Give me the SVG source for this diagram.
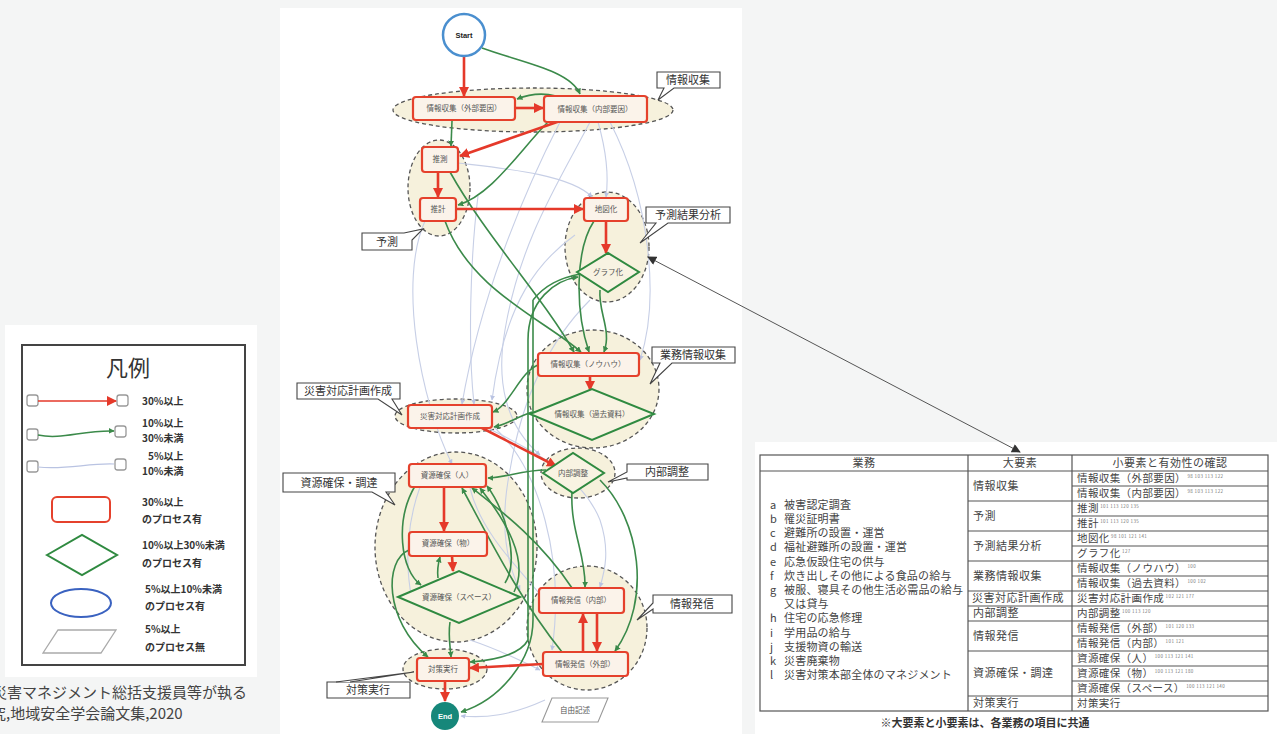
<svg xmlns="http://www.w3.org/2000/svg" width="1277" height="734" viewBox="0 0 1277 734">
  <defs>
    <style>
      .jp { font-family: "Noto Sans CJK JP", "Noto Sans", sans-serif; }
      .grp { fill: #f6f1dc; stroke: #555; stroke-width: 1.3; stroke-dasharray: 4 3; }
      .box { fill: #fbf3ea; stroke: #e5412c; stroke-width: 2.2; }
      .dia { fill: #f8f3e2; stroke: #2f8a40; stroke-width: 2; }
      .lbl { font-size: 7.5px; fill: #555; text-anchor: middle; }
      .red { fill: none; stroke: #e5392a; stroke-width: 2.6; marker-end: url(#mRed); }
      .grn { fill: none; stroke: #3b8a4a; stroke-width: 1.6; marker-end: url(#mGrn); }
      .lt { fill: none; stroke: #c7cfe6; stroke-width: 1.1; marker-end: url(#mLt); }
      .call { fill: #fff; stroke: #444; stroke-width: 1.1; }
      .ctx { font-size: 11px; fill: #333; text-anchor: middle; }
      .leg { font-size: 10px; fill: #333; font-weight: bold; }
      .tb { fill: none; stroke: #555; stroke-width: 1.2; }
      .t1 { font-size: 11px; fill: #444; letter-spacing: 0.2px; }
      .t2 { font-size: 11px; fill: #444; letter-spacing: 0.5px; }
      .t3 { font-size: 10.5px; fill: #444; letter-spacing: 0.4px; }
      .sup { font-size: 4.5px; fill: #777; }
    </style>
    <marker id="mRed" viewBox="0 0 10 10" refX="9" refY="5" markerWidth="10" markerHeight="10" markerUnits="userSpaceOnUse" orient="auto">
      <path d="M0,0 L10,5 L0,10 z" fill="#e5392a"/>
    </marker>
    <marker id="mGrn" viewBox="0 0 10 10" refX="9" refY="5" markerWidth="6" markerHeight="6" markerUnits="userSpaceOnUse" orient="auto">
      <path d="M0,0 L10,5 L0,10 z" fill="#3b8a4a"/>
    </marker>
    <marker id="mLt" viewBox="0 0 10 10" refX="9" refY="5" markerWidth="5" markerHeight="5" markerUnits="userSpaceOnUse" orient="auto">
      <path d="M0,0 L10,5 L0,10 z" fill="#b9c3e2"/>
    </marker>
    <marker id="mBlk" viewBox="0 0 10 10" refX="9" refY="5" markerWidth="10" markerHeight="9" markerUnits="userSpaceOnUse" orient="auto-start-reverse">
      <path d="M0,0 L10,5 L0,10 z" fill="#333"/>
    </marker>
  </defs>

  <!-- page -->
  <rect x="0" y="0" width="1277" height="734" fill="#f4f5f5"/>
  <rect x="5" y="325" width="252" height="352" fill="#fff"/>
  <rect x="280" y="8" width="462" height="726" fill="#fff"/>
  <rect x="755" y="442" width="522" height="292" fill="#fff"/>

  <!-- legend -->
  <g id="legend" class="jp">
    <rect x="22" y="345" width="223" height="320" fill="none" stroke="#444" stroke-width="2"/>
    <text x="128" y="376" font-size="22" fill="#333" text-anchor="middle">凡例</text>
    <rect x="27" y="395" width="11" height="11" rx="2.5" fill="#fff" stroke="#999" stroke-width="1.3"/>
    <rect x="117" y="395" width="11" height="11" rx="2.5" fill="#fff" stroke="#999" stroke-width="1.3"/>
    <path d="M38,401 H116" fill="none" stroke="#e5392a" stroke-width="1.6" marker-end="url(#mRed)"/>
    <text class="leg" x="142" y="405">30%以上</text>
    <rect x="27" y="429" width="11" height="11" rx="2.5" fill="#fff" stroke="#999" stroke-width="1.3"/>
    <rect x="115" y="426" width="11" height="11" rx="2.5" fill="#fff" stroke="#999" stroke-width="1.3"/>
    <path d="M38,435 C62,440 82,430 114,431" fill="none" stroke="#3b8a4a" stroke-width="1.5" marker-end="url(#mGrn)"/>
    <text class="leg" x="142" y="427">10%以上</text>
    <text class="leg" x="142" y="442">30%未満</text>
    <rect x="27" y="461" width="11" height="11" rx="2.5" fill="#fff" stroke="#999" stroke-width="1.3"/>
    <rect x="115" y="459" width="11" height="11" rx="2.5" fill="#fff" stroke="#999" stroke-width="1.3"/>
    <path d="M38,467 C66,470 88,463 114,464" fill="none" stroke="#b9c3e2" stroke-width="1.2"/>
    <text class="leg" x="148" y="460">5%以上</text>
    <text class="leg" x="142" y="475">10%未満</text>
    <rect x="52" y="497" width="58" height="25" rx="5" fill="#fff" stroke="#e5412c" stroke-width="2"/>
    <text class="leg" x="142" y="506">30%以上</text>
    <text class="leg" x="142" y="523">のプロセス有</text>
    <polygon points="47,555 82,535 117,555 82,575" fill="#fff" stroke="#2f8a40" stroke-width="2"/>
    <text class="leg" x="142" y="549">10%以上30%未満</text>
    <text class="leg" x="142" y="567">のプロセス有</text>
    <ellipse cx="81" cy="603" rx="30" ry="14" fill="#fff" stroke="#3a62c0" stroke-width="2"/>
    <text class="leg" x="145" y="593">5%以上10%未満</text>
    <text class="leg" x="145" y="610">のプロセス有</text>
    <polygon points="58,630 116,630 101,653 43,653" fill="#fff" stroke="#aaa" stroke-width="1.3"/>
    <text class="leg" x="145" y="633">5%以上</text>
    <text class="leg" x="145" y="651">のプロセス無</text>
  </g>

  <!-- source caption (runs off the left edge) -->
  <g id="caption" class="jp" font-size="15" fill="#444">
    <text x="-8" y="698">災害マネジメント総括支援員等が執る</text>
    <text x="-9" y="719">究,地域安全学会論文集,2020</text>
  </g>

  <!-- clusters -->
  <g id="clusters">
    <ellipse class="grp" cx="533" cy="110" rx="140" ry="22"/>
    <ellipse class="grp" cx="439" cy="188" rx="31" ry="48"/>
    <ellipse class="grp" cx="607" cy="247" rx="42" ry="55"/>
    <ellipse class="grp" cx="593" cy="389" rx="66" ry="59"/>
    <ellipse class="grp" cx="456" cy="416" rx="61" ry="17"/>
    <ellipse class="grp" cx="578" cy="473" rx="37" ry="25"/>
    <ellipse class="grp" cx="456" cy="547" rx="81" ry="95"/>
    <ellipse class="grp" cx="587" cy="628" rx="60" ry="62"/>
    <ellipse class="grp" cx="445" cy="669" rx="42" ry="20"/>
  </g>

  <!-- connectors -->
  <g id="connectors">
    <!-- 5%-10% -->
    <path class="lt" d="M598,122 C606,150 609,175 606,197"/>
    <path class="lt" d="M590,122 C560,180 520,240 505,330 C496,380 505,425 540,455"/>
    <path class="lt" d="M458,163 C500,168 570,174 592,197"/>
    <path class="lt" d="M425,221 C398,280 420,400 452,464"/>
    <path class="lt" d="M560,122 C520,200 480,300 462,404"/>
    <path class="lt" d="M610,122 C650,200 660,300 640,360"/>
    <path class="lt" d="M495,428 C540,470 565,560 552,650"/>
    <path class="lt" d="M488,428 C520,445 580,470 600,520 C610,550 605,570 600,587"/>
    <path class="lt" d="M470,488 C480,530 515,565 545,600"/>
    <path class="lt" d="M420,487 C408,520 404,560 412,600"/>
    <path class="lt" d="M575,235 C540,260 505,300 492,400"/>
    <path class="lt" d="M590,300 C560,330 525,380 510,470 C500,520 505,560 520,590"/>
    <path class="lt" d="M470,640 C500,650 520,660 540,670"/>
    <path class="lt" d="M545,700 C510,716 485,718 461,716"/>
    <path class="lt" d="M478,196 C470,260 468,350 474,404"/>
    <!-- 10%-30% -->
    <path class="grn" d="M482,48 C520,62 570,70 580,94"/>
    <path class="grn" d="M556,96 C540,92 527,95 517,99"/>
    <path class="grn" d="M452,121 L451,146"/>
    <path class="grn" d="M548,122 C520,150 492,195 458,205"/>
    <path class="grn" d="M450,172 C485,235 545,300 574,352"/>
    <path class="grn" d="M445,221 C470,290 545,320 581,352"/>
    <path class="grn" d="M594,221 C575,250 575,310 589,352"/>
    <path class="grn" d="M600,290 C598,312 612,330 604,352"/>
    <path class="grn" d="M528,640 L528,340 C528,300 555,280 578,277"/>
    <path class="grn" d="M533,300 C545,285 560,278 580,274 M533,300 L533,620 C533,660 500,700 461,712"/>
    <path class="grn" d="M528,640 C520,655 495,660 470,662"/>
    <path class="grn" d="M538,365 C520,372 510,405 493,412"/>
    <path class="grn" d="M532,412 C515,418 505,425 494,427"/>
    <path class="grn" d="M546,470 C522,470 505,478 488,478"/>
    <path class="grn" d="M572,492 C570,530 586,555 585,587"/>
    <path class="grn" d="M600,480 C640,520 652,600 615,651"/>
    <path class="grn" d="M572,588 C540,540 500,510 472,488"/>
    <path class="grn" d="M562,652 C520,600 490,540 462,488"/>
    <path class="grn" d="M514,592 C530,560 505,520 480,488"/>
    <path class="grn" d="M415,486 C395,520 400,570 421,585"/>
    <path class="grn" d="M409,550 C384,560 384,620 428,657"/>
    <path class="grn" d="M450,622 C448,635 450,645 451,657"/>
    <path class="grn" d="M438,578 C437,570 438,564 440,557"/>
    <path class="grn" d="M505,583 C520,560 505,510 487,486"/>
    <!-- 30%+ -->
    <path class="red" d="M464,57 V96"/>
    <path class="red" d="M515,108 H543"/>
    <path class="red" d="M560,121 L460,156"/>
    <path class="red" d="M438,172 V197"/>
    <path class="red" d="M456,209 H583"/>
    <path class="red" d="M606,221 V253"/>
    <path class="red" d="M590,376 V390"/>
    <path class="red" d="M482,428 L556,466"/>
    <path class="red" d="M444,486 V531"/>
    <path class="red" d="M452,556 L453,571"/>
    <path class="red" d="M583,652 V614"/>
    <path class="red" d="M597,613 V651"/>
    <path class="red" d="M543,664 L470,668"/>
    <path class="red" d="M445,681 V701"/>
    <!-- link to table -->
    <path d="M648,257 L1020,452" fill="none" stroke="#555" stroke-width="1" marker-start="url(#mBlk)" marker-end="url(#mBlk)"/>
  </g>

  <!-- nodes -->
  <g id="n-start">
    <circle cx="464" cy="35" r="21" fill="#fff" stroke="#4a8fcf" stroke-width="2.5"/>
    <text x="464" y="38" font-family="Liberation Sans, sans-serif" font-size="7.5" font-weight="bold" fill="#222" text-anchor="middle">Start</text>
  </g>
  <g id="n-gaibu" class="jp">
    <rect class="box" x="413" y="97" width="102" height="23" rx="3"/>
    <text class="lbl" x="464" y="111">情報収集（外部要因）</text>
  </g>
  <g id="n-naibu" class="jp">
    <rect class="box" x="544" y="96" width="103" height="26" rx="3"/>
    <text class="lbl" x="595" y="112">情報収集（内部要因）</text>
  </g>
  <g id="n-suisoku" class="jp">
    <rect class="box" x="422" y="147" width="36" height="25" rx="3"/>
    <text class="lbl" x="440" y="162">推測</text>
  </g>
  <g id="n-suikei" class="jp">
    <rect class="box" x="420" y="198" width="36" height="23" rx="3"/>
    <text class="lbl" x="438" y="212">推計</text>
  </g>
  <g id="n-chizu" class="jp">
    <rect class="box" x="584" y="198" width="44" height="23" rx="3"/>
    <text class="lbl" x="606" y="212">地図化</text>
  </g>
  <g id="n-graph" class="jp">
    <polygon class="dia" points="577,272 608,253 639,272 608,292"/>
    <text class="lbl" x="608" y="275">グラフ化</text>
  </g>
  <g id="n-knowhow" class="jp">
    <rect class="box" x="538" y="353" width="101" height="23" rx="3"/>
    <text class="lbl" x="588" y="367">情報収集（ノウハウ）</text>
  </g>
  <g id="n-kako" class="jp">
    <polygon class="dia" points="530,414 592,389 654,414 592,440"/>
    <text class="lbl" x="592" y="417">情報収集（過去資料）</text>
  </g>
  <g id="n-keikaku" class="jp">
    <rect class="box" x="408" y="405" width="84" height="23" rx="3"/>
    <text class="lbl" x="450" y="419">災害対応計画作成</text>
  </g>
  <g id="n-chousei" class="jp">
    <polygon class="dia" points="543,473 573,453 604,473 573,493"/>
    <text class="lbl" x="573" y="476">内部調整</text>
  </g>
  <g id="n-hito" class="jp">
    <rect class="box" x="409" y="464" width="77" height="23" rx="3"/>
    <text class="lbl" x="447" y="478">資源確保（人）</text>
  </g>
  <g id="n-mono" class="jp">
    <rect class="box" x="409" y="532" width="78" height="24" rx="3"/>
    <text class="lbl" x="448" y="546">資源確保（物）</text>
  </g>
  <g id="n-space" class="jp">
    <polygon class="dia" points="398,597 459,571 520,597 459,623"/>
    <text class="lbl" x="459" y="600">資源確保（スペース）</text>
  </g>
  <g id="n-hasshin-in" class="jp">
    <rect class="box" x="539" y="588" width="85" height="25" rx="3"/>
    <text class="lbl" x="581" y="603">情報発信（内部）</text>
  </g>
  <g id="n-hasshin-out" class="jp">
    <rect class="box" x="543" y="652" width="85" height="24" rx="3"/>
    <text class="lbl" x="585" y="667">情報発信（外部）</text>
  </g>
  <g id="n-taisaku" class="jp">
    <rect class="box" x="417" y="658" width="52" height="23" rx="3"/>
    <text class="lbl" x="443" y="672">対策実行</text>
  </g>
  <g id="n-end">
    <circle cx="445" cy="716" r="14" fill="#16877a"/>
    <text x="445" y="719" font-family="Liberation Sans, sans-serif" font-size="7.5" font-weight="bold" fill="#fff" text-anchor="middle">End</text>
  </g>
  <g id="n-jiyu" class="jp">
    <polygon points="552,698 608,698 598,722 542,722" fill="#fff" stroke="#999" stroke-width="1.1"/>
    <text class="lbl" x="575" y="713">自由記述</text>
  </g>

  <!-- cluster callouts -->
  <g id="callouts" class="jp">
    <path class="call" d="M657,72 H720 V88 H674 L658,100 L664,88 H657 Z"/>
    <text class="ctx" x="688" y="84">情報収集</text>
    <path class="call" d="M646,207 H730 V223 H668 L640,243 L656,223 H646 Z"/>
    <text class="ctx" x="688" y="219">予測結果分析</text>
    <path class="call" d="M362,233 H404 L423,229 L412,240 V250 H362 Z"/>
    <text class="ctx" x="387" y="246">予測</text>
    <path class="call" d="M652,347 H735 V363 H672 L650,384 L660,363 H652 Z"/>
    <text class="ctx" x="693" y="359">業務情報収集</text>
    <path class="call" d="M297,383 H400 V399 H392 L402,415 L378,399 H297 Z"/>
    <text class="ctx" x="348" y="395">災害対応計画作成</text>
    <path class="call" d="M627,464 H708 V480 H627 V478 L608,482 L627,472 Z"/>
    <text class="ctx" x="667" y="476">内部調整</text>
    <path class="call" d="M283,473 H395 V492 H386 L395,505 L372,492 H283 Z"/>
    <text class="ctx" x="339" y="487">資源確保・調達</text>
    <path class="call" d="M653,595 H732 V613 H653 V609 L637,620 L653,603 Z"/>
    <text class="ctx" x="692" y="608">情報発信</text>
    <path class="call" d="M327,682 H410 V698 H327 Z"/>
    <path d="M336,682 L414,672 L350,682" fill="#fff" stroke="#444" stroke-width="1.1"/>
    <text class="ctx" x="368" y="694">対策実行</text>
  </g>

  <!-- element table -->
  <g id="table" class="jp">
    <rect class="tb" x="760" y="455" width="508" height="256"/>
    <path class="tb" d="M760,471 H1268 M968,455 V711 M1072,455 V711"/>
    <!-- major element boundaries -->
    <path class="tb" d="M968,501 H1268 M968,531 H1268 M968,561 H1268 M968,591 H1268 M968,606 H1268 M968,621 H1268 M968,651 H1268 M968,696 H1268"/>
    <!-- minor element rows -->
    <path class="tb" d="M1072,486 H1268 M1072,516 H1268 M1072,546 H1268 M1072,576 H1268 M1072,636 H1268 M1072,666 H1268 M1072,681 H1268"/>
    <text class="t2" x="864" y="467" text-anchor="middle">業務</text>
    <text class="t2" x="1020" y="467" text-anchor="middle">大要素</text>
    <text class="t2" x="1170" y="467" text-anchor="middle">小要素と有効性の確認</text>

    <g class="t1">
      <text x="770" y="509">a</text><text x="784" y="509">被害認定調査</text>
      <text x="770" y="523">b</text><text x="784" y="523">罹災証明書</text>
      <text x="770" y="537">c</text><text x="784" y="537">避難所の設置・運営</text>
      <text x="770" y="551">d</text><text x="784" y="551">福祉避難所の設置・運営</text>
      <text x="770" y="566">e</text><text x="784" y="566">応急仮設住宅の供与</text>
      <text x="770" y="580">f</text><text x="784" y="580">炊き出しその他による食品の給与</text>
      <text x="770" y="594">g</text><text x="784" y="594">被服、寝具その他生活必需品の給与</text>
      <text x="784" y="608">又は貸与</text>
      <text x="770" y="622">h</text><text x="784" y="622">住宅の応急修理</text>
      <text x="770" y="637">i</text><text x="784" y="637">学用品の給与</text>
      <text x="770" y="651">j</text><text x="784" y="651">支援物資の輸送</text>
      <text x="770" y="665">k</text><text x="784" y="665">災害廃棄物</text>
      <text x="770" y="679">l</text><text x="784" y="679">災害対策本部全体のマネジメント</text>
    </g>

    <g class="t2">
      <text x="973" y="490">情報収集</text>
      <text x="973" y="520">予測</text>
      <text x="973" y="550">予測結果分析</text>
      <text x="973" y="580">業務情報収集</text>
      <text x="972" y="602">災害対応計画作成</text>
      <text x="973" y="617">内部調整</text>
      <text x="973" y="640">情報発信</text>
      <text x="973" y="677">資源確保・調達</text>
      <text x="973" y="707">対策実行</text>
    </g>

    <g class="t3">
      <text x="1077" y="482">情報収集（外部要因）<tspan class="sup" dy="-4"> 98 103 113 122</tspan></text>
      <text x="1077" y="497">情報収集（内部要因）<tspan class="sup" dy="-4"> 98 103 113 122</tspan></text>
      <text x="1077" y="512">推測<tspan class="sup" dy="-4"> 101 113 120 135</tspan></text>
      <text x="1077" y="527">推計<tspan class="sup" dy="-4"> 101 113 120 135</tspan></text>
      <text x="1077" y="542">地図化<tspan class="sup" dy="-4"> 98 101 121 141</tspan></text>
      <text x="1077" y="557">グラフ化<tspan class="sup" dy="-4"> 127</tspan></text>
      <text x="1077" y="572">情報収集（ノウハウ）<tspan class="sup" dy="-4"> 100</tspan></text>
      <text x="1077" y="587">情報収集（過去資料）<tspan class="sup" dy="-4"> 100 102</tspan></text>
      <text x="1077" y="602">災害対応計画作成<tspan class="sup" dy="-4"> 102 121 177</tspan></text>
      <text x="1077" y="617">内部調整<tspan class="sup" dy="-4"> 100 113 120</tspan></text>
      <text x="1077" y="632">情報発信（外部）<tspan class="sup" dy="-4"> 101 120 133</tspan></text>
      <text x="1077" y="647">情報発信（内部）<tspan class="sup" dy="-4"> 101 121</tspan></text>
      <text x="1077" y="662">資源確保（人）<tspan class="sup" dy="-4"> 100 113 121 141</tspan></text>
      <text x="1077" y="677">資源確保（物）<tspan class="sup" dy="-4"> 100 113 121 180</tspan></text>
      <text x="1077" y="692">資源確保（スペース）<tspan class="sup" dy="-4"> 100 113 121 140</tspan></text>
      <text x="1077" y="707">対策実行</text>
    </g>

    <text x="985" y="727" font-size="11" font-weight="bold" fill="#333" text-anchor="middle">※大要素と小要素は、各業務の項目に共通</text>
  </g>
</svg>
